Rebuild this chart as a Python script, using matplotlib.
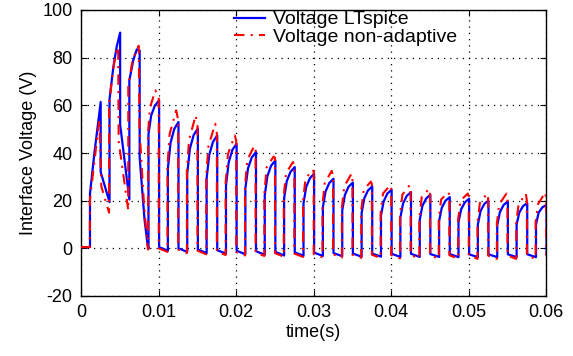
import matplotlib
matplotlib.use("Agg")
import matplotlib.pyplot as plt
import numpy as np

plt.rcParams['font.family'] = ['Liberation Sans', 'DejaVu Sans']

# ---------------- data ----------------
x_ticks = [0, 0.01, 0.02, 0.03, 0.04, 0.05, 0.06]
x_tick_labels = ["0", "0.01", "0.02", "0.03", "0.04", "0.05", "0.06"]
y_ticks = [-20, 0, 20, 40, 60, 80, 100]
y_tick_labels = ["-20", "0", "20", "40", "60", "80", "100"]

# start-up transient (irregular) vertices
blue_early_t = [0, 0.00116, 0.00116, 0.00172, 0.00254, 0.00254, 0.00368, 0.00368, 0.00417,
                0.00460, 0.00505, 0.00505, 0.00624, 0.00624, 0.00675, 0.00720, 0.00757,
                0.00757, 0.00820, 0.00860]
blue_early_v = [0.5, 0.5, 23, 39.7, 61.4, 32, 19.4, 62.5, 76, 84.5, 90.5, 52, 20.5, 70.5,
                79, 83.5, 83, 38, 12, 1.3]

red_early_t = [0, 0.00114, 0.00114, 0.00236, 0.00262, 0.00362, 0.00362, 0.00410, 0.00450,
               0.00480, 0.00486, 0.00610, 0.00610, 0.00660, 0.00710, 0.00745, 0.00755,
               0.00810, 0.00850, 0.00862]
red_early_v = [0.5, 0.5, 20, 54, 26, 15, 60, 74, 82, 84.5, 45, 16, 68, 78, 83, 85, 50, 20,
               4, 0]

# regular pulses (rise / fall instants, levels)
blue_rise_t = [0.00871, 0.01121, 0.01371, 0.01621, 0.01871, 0.02121, 0.02371, 0.02621,
               0.02871, 0.03121, 0.03371, 0.03621, 0.03871, 0.04121, 0.04371, 0.04621,
               0.04871, 0.05121, 0.05371, 0.05621, 0.05871]
blue_fall_t = [0.01008, 0.01258, 0.01508, 0.01758, 0.02008, 0.02258, 0.02508, 0.02758,
               0.03008, 0.03258, 0.03508, 0.03758, 0.04008, 0.04258, 0.04508, 0.04758,
               0.05008, 0.05258, 0.05508, 0.05758, 0.06008]
blue_start = [48, 33.5, 31.4, 29.4, 26.4, 25.2, 22.2, 21, 18.9, 17.3, 16, 14.8, 13.8, 12.9,
              12, 11.5, 11, 10, 9.7, 10, 10]
blue_mid1 = [55.7, 44.2, 41.8, 39.3, 36.0, 33.6, 30.3, 28.2, 25.7, 23.8, 22.4, 21.0, 19.7,
             18.8, 17.8, 17.0, 16.4, 15.6, 15.2, 15.0, 15.0]
blue_mid2 = [59.9, 50.1, 47.5, 44.7, 41.3, 38.1, 34.7, 32.1, 29.4, 27.4, 25.9, 24.3, 23.0,
             22.0, 20.9, 20.0, 19.3, 18.6, 18.2, 17.7, 17.2]
blue_peak = [62.1, 53, 50.3, 47.4, 43.9, 40.4, 36.9, 34.1, 31.3, 29.2, 27.6, 26, 24.6, 23.6,
             22.5, 21.5, 20.8, 20.1, 19.7, 19, 18.3]
blue_low_after = [0.5, 0, -0.5, -0.8, -1, -1.2, -1.5, -1.7, -1.8, -2, -2.2, -2.2, -2.3,
                  -2.3, -2.4, -2.4, -2.5, -2.5, -2.5, -2.5, -2.5]
blue_low_before = [-0.2, -1, -1.5, -2, -2.2, -2.5, -2.7, -3, -3.1, -3.2, -3.3, -3.5, -3.5,
                   -3.6, -3.6, -3.6, -3.7, -3.7, -3.7, -3.7, -3.7]

red_rise_t = [0.00866, 0.01116, 0.01366, 0.01616, 0.01866, 0.02116, 0.02366, 0.02616,
              0.02866, 0.03116, 0.03366, 0.03616, 0.03866, 0.04116, 0.04366, 0.04616,
              0.04866, 0.05116, 0.05366, 0.05616, 0.05866]
red_peak_t = [0.00960, 0.01228, 0.01480, 0.01732, 0.01985, 0.02235, 0.02485, 0.02735,
              0.02985, 0.03235, 0.03490, 0.03740, 0.03990, 0.04240, 0.04490, 0.04740,
              0.04990, 0.05240, 0.05490, 0.05740, 0.05990]
red_fall_t = [0.01003, 0.01253, 0.01503, 0.01753, 0.02003, 0.02253, 0.02503, 0.02753,
              0.03003, 0.03253, 0.03503, 0.03753, 0.04003, 0.04253, 0.04503, 0.04753,
              0.05003, 0.05253, 0.05503, 0.05753, 0.06003]
red_start = [49, 34.5, 32.5, 30.5, 27.5, 26, 23, 22, 20, 18.5, 17, 16, 15, 14, 13, 12.5,
             12, 11, 10.5, 11, 11]
red_mid1 = [59, 48, 45.5, 43, 39.5, 37, 34, 31.5, 29, 27.5, 26, 24.5, 23, 22.5, 21.5, 20.5,
            20, 19, 18.5, 18.5, 18.5]
red_peak = [66.3, 57.9, 55.8, 52.3, 47.4, 43, 38.5, 36.2, 33, 32.5, 31.3, 28, 26.5, 26.5,
            25, 23.5, 23, 23, 23, 23, 23.5]
red_end = [63, 54, 51.3, 48.4, 45, 41.4, 38, 35, 32.3, 30.2, 28.6, 27, 25.6, 24.6, 23.5,
           22.5, 21.8, 21.1, 20.7, 20, 19]
red_low_after = [0, -0.5, -1, -1.3, -1.5, -1.8, -2, -2.2, -2.4, -2.5, -2.7, -2.7, -2.8,
                 -2.8, -2.9, -2.9, -3, -3, -3, -3, -3]
red_low_before = [-0.5, -1.5, -2, -2.5, -2.8, -3, -3.2, -3.5, -3.6, -3.8, -3.9, -4, -4,
                  -4.2, -4.2, -4.3, -4.3, -4.4, -4.4, -4.4, -4.4]

# ---------------- build vertex paths ----------------
def blue_path():
    t = list(blue_early_t)
    v = list(blue_early_v)
    for k in range(len(blue_rise_t)):
        r, f = blue_rise_t[k], blue_fall_t[k]
        w = f - r
        t += [r, r, r + 0.25 * w, r + 0.6 * w, f, f]
        v += [blue_low_before[k], blue_start[k], blue_mid1[k], blue_mid2[k], blue_peak[k],
              blue_low_after[k]]
    return t, v

def red_path():
    t = list(red_early_t)
    v = list(red_early_v)
    for k in range(len(red_rise_t)):
        r, p, f = red_rise_t[k], red_peak_t[k], red_fall_t[k]
        w = p - r
        t += [r, r, r + 0.25 * w, p, f, f]
        v += [red_low_before[k], red_start[k], red_mid1[k], red_peak[k], red_end[k],
              red_low_after[k]]
    return t, v

bt, bv = blue_path()
rt, rv = red_path()

# ---------------- figure ----------------
fig = plt.figure(figsize=(5.73, 3.56), dpi=100)
ax = fig.add_axes([81 / 573, 1 - 296 / 356, (546 - 81) / 573, (296 - 10) / 356])

ax.plot(bt, bv, color='#0000ff', lw=1.6, label='Voltage LTspice', zorder=3)
ax.plot(rt, rv, color='#ff0000', lw=1.5, linestyle=(0, (5, 3, 1, 3)),
        label='Voltage non-adaptive', zorder=4)

ax.set_xlim(0, 0.06)
ax.set_ylim(-20, 100)
ax.set_xticks(x_ticks)
ax.set_xticklabels(x_tick_labels)
ax.set_yticks(y_ticks)
ax.set_yticklabels(y_tick_labels)
ax.tick_params(direction='in', top=True, right=True, labelsize=13, length=4, width=0.8,
               pad=6)
ax.grid(True, color='black', linestyle=(0, (1, 4)), linewidth=0.9)
for s in ax.spines.values():
    s.set_linewidth(1.0)

ax.set_xlabel('time(s)', fontsize=13, labelpad=2)
ax.set_ylabel('Interface Voltage (V)', fontsize=13, labelpad=4)

leg = ax.legend(loc='upper left', bbox_to_anchor=(0.30, 1.045), frameon=False,
                fontsize=14, handlelength=1.6, handletextpad=0.4, labelspacing=0.0,
                borderpad=0.2)

fig.savefig('out.png', dpi=100)
